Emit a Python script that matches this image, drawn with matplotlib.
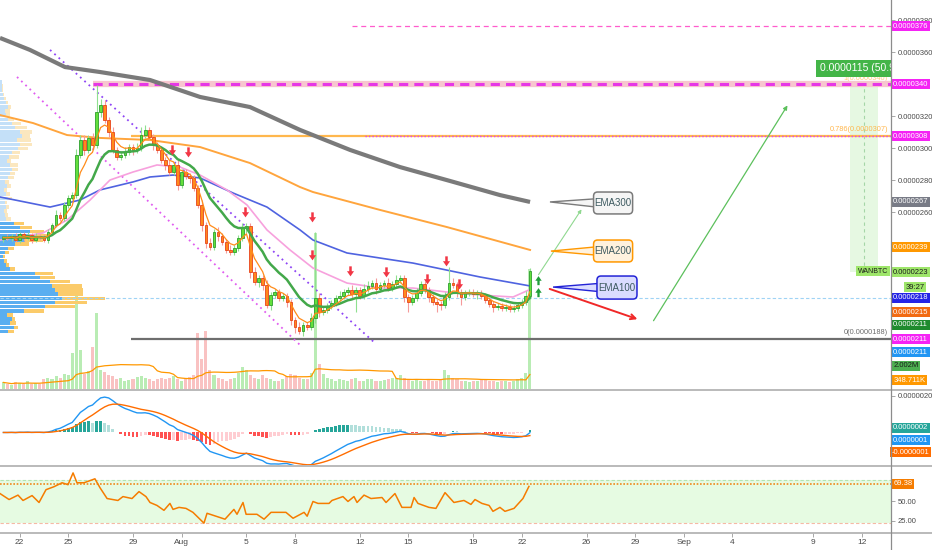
import numpy as np
import pandas as pd
import matplotlib
matplotlib.use("Agg")
import matplotlib.pyplot as plt
from matplotlib.patches import Polygon, Rectangle, FancyBboxPatch
from matplotlib.lines import Line2D

plt.rcParams['font.family'] = ['Liberation Sans', 'DejaVu Sans']

# WANBTC, 6h candles, prices in units of 1e-7 BTC, day 0 = Jul 22
closes = [
    244.0, 243.8, 245.0, 242.5, 246.3, 243.8, 245.6, 242.5, 245.0, 244.4,
    242.5, 247.5, 251.9, 258.1, 256.3, 264.4, 268.8, 270.6, 295.6, 305.0,
    298.8, 306.3, 301.9, 322.5, 326.9, 317.5, 310.0, 298.8, 294.4, 295.6,
    297.5, 300.6, 298.8, 300.0, 308.1, 311.3, 306.9, 301.9, 298.8, 292.5,
    289.4, 285.0, 289.4, 276.9, 285.0, 282.5, 281.3, 275.0, 264.4, 251.9,
    240.6, 238.1, 247.5, 245.0, 241.3, 236.3, 235.0, 237.5, 243.8, 250.0,
    251.3, 222.5, 216.3, 218.8, 214.4, 201.9, 208.1, 210.0, 206.3, 207.5,
    203.8, 192.5, 188.1, 185.6, 189.4, 188.1, 193.8, 206.3, 197.5, 198.8,
    201.3, 203.1, 206.3, 207.5, 210.0, 211.3, 208.8, 211.3, 207.5, 211.9,
    213.8, 215.6, 211.9, 214.4, 215.6, 212.5, 215.0, 217.5, 218.8, 206.9,
    203.8, 206.3, 209.4, 215.0, 211.3, 206.9, 203.8, 202.5, 201.9, 206.9,
    215.6, 214.4, 210.0, 206.9, 209.4, 210.0, 208.8, 209.4, 207.5, 205.0,
    202.5, 200.6, 201.3, 200.0, 200.6, 199.4, 200.0, 201.9, 203.8, 207.5,
    223.0]
upper_wick = [
    1, 2, 1, 2, 1, 1, 2, 1, 2, 1,
    2, 2, 1, 3, 2, 2, 2, 2, 4, 3,
    3, 2, 3, 17, 4, 3, 2, 3, 2, 2,
    3, 2, 2, 3, 5, 3, 2, 2, 2, 2,
    2, 3, 2, 3, 2, 2, 2, 2, 2, 3,
    2, 3, 2, 3, 2, 2, 3, 2, 2, 3,
    2, 2, 3, 2, 2, 3, 2, 2, 2, 2,
    2, 2, 2, 3, 2, 2, 3, 41, 3, 2,
    2, 2, 2, 3, 2, 2, 3, 2, 2, 3,
    3, 2, 3, 2, 2, 3, 2, 3, 2, 2,
    2, 2, 3, 2, 2, 2, 2, 2, 2, 3,
    10, 3, 2, 2, 2, 2, 2, 2, 2, 2,
    2, 2, 2, 2, 2, 2, 2, 2, 2, 3,
    2]
lower_wick = [
    2, 1, 2, 1, 2, 2, 1, 2, 1, 2,
    1, 2, 2, 1, 2, 2, 2, 1, 2, 2,
    3, 2, 2, 2, 3, 2, 3, 2, 2, 2,
    2, 2, 3, 2, 2, 2, 2, 3, 2, 2,
    3, 2, 2, 3, 2, 2, 3, 2, 2, 4,
    3, 2, 2, 3, 2, 2, 2, 2, 2, 2,
    3, 4, 2, 3, 3, 2, 3, 2, 2, 2,
    3, 3, 4, 2, 3, 2, 2, 3, 3, 2,
    2, 2, 2, 2, 2, 2, 3, 11, 2, 2,
    2, 2, 3, 2, 2, 2, 2, 2, 2, 3,
    6, 2, 2, 2, 2, 3, 2, 5, 3, 2,
    2, 2, 3, 5, 2, 2, 2, 3, 2, 2,
    2, 3, 2, 2, 2, 2, 2, 2, 2, 2,
    2]
volume_k = [
    110, 90, 70, 120, 100, 80, 130, 80, 100, 90,
    160, 190, 170, 210, 180, 250, 230, 600, 1600, 650,
    250, 300, 700, 1270, 310, 290, 240, 210, 160, 180,
    130, 150, 170, 200, 220, 180, 160, 140, 170, 190,
    160, 180, 210, 170, 140, 160, 200, 230, 930, 500,
    970, 310, 230, 180, 160, 140, 170, 190, 270, 360,
    310, 230, 180, 170, 240, 190, 160, 140, 130, 160,
    210, 250, 230, 180, 160, 170, 270, 2600, 420, 250,
    180, 160, 140, 170, 150, 140, 160, 180, 140, 130,
    160, 170, 140, 130, 150, 160, 180, 190, 230, 180,
    150, 140, 170, 140, 130, 160, 140, 130, 160, 310,
    230, 180, 160, 140, 130, 120, 140, 130, 150, 160,
    140, 130, 120, 140, 130, 110, 130, 160, 190, 270,
    2002]

# moving averages: (day, price)
ema300_day = [-1.21, 0.64, 2.80, 4.96, 8.05, 11.14, 14.22, 17.31, 20.40, 23.48, 26.57, 29.65, 31.51]
ema300_val = [368.8, 361.3, 350.6, 347.5, 342.5, 331.9, 325.6, 311.3, 298.8, 288.1, 279.4, 270.6, 266.3]
ema200_day = [-1.21, 0.83, 2.93, 4.96, 8.05, 11.14, 14.22, 17.31, 18.11, 22.25, 26.38, 31.51]
ema200_val = [320.6, 315.6, 308.1, 306.3, 305.0, 300.6, 290.6, 275.6, 272.5, 261.3, 250.6, 236.3]
ema100_day = [-1.21, 1.88, 3.73, 4.96, 7.00, 8.05, 9.47, 11.14, 13.17, 15.27, 17.31, 18.11, 20.21, 24.28, 28.42, 31.51]
ema100_val = [269.4, 263.1, 267.5, 273.8, 278.8, 281.9, 283.1, 281.3, 271.9, 263.1, 248.8, 242.5, 234.4, 228.1, 219.4, 213.8]
ema50_day = [-1.21, 1.44, 2.93, 4.35, 5.58, 7.00, 8.48, 9.90, 11.14, 12.80, 14.04, 15.27, 16.69, 18.11,
             20.21, 22.25, 24.28, 26.38, 28.42, 30.46, 31.44]
ema50_val = [242.5, 246.9, 255.0, 267.5, 280.0, 285.0, 289.4, 288.1, 283.1, 273.8, 264.4, 248.8, 236.3, 225.0,
             215.6, 212.5, 212.5, 210.0, 208.1, 206.9, 211.3]

# RSI
rsi_day = [-1.21, -0.65, -0.10, 0.21, 0.77, 1.20, 1.63, 2.12, 2.62, 2.99, 3.30, 3.54, 3.98, 4.65, 4.96, 5.40,
           6.07, 6.38, 6.94, 7.37, 7.80, 8.05, 8.48, 8.91, 9.28, 9.47, 9.84, 10.27, 10.70, 11.38, 11.57,
           12.68, 13.23, 13.42, 13.79, 13.98, 14.65, 15.09, 15.52, 16.44, 16.88, 17.56, 17.75, 18.11, 18.42,
           19.10, 19.28, 19.96, 20.27, 20.64, 20.83, 21.26, 21.69, 22.37, 22.62, 23.17, 23.60, 24.16, 24.35,
           24.59, 25.27, 25.70, 26.26, 26.81, 27.43, 27.86, 28.11, 28.54, 28.98, 29.22, 29.65, 29.96, 30.52,
           31.07, 31.44]
rsi_val = [60.2, 52.5, 58.2, 51.3, 57.6, 48.7, 65.2, 69.0, 74.1, 71.6, 86.8, 74.1, 74.1, 79.2, 67.8, 53.8,
           51.3, 56.3, 53.8, 62.7, 56.3, 48.7, 44.9, 38.6, 47.5, 39.8, 42.4, 41.1, 36.0, 22.1, 34.8,
           27.2, 39.8, 33.5, 48.7, 33.5, 33.5, 27.2, 36.0, 36.0, 28.4, 36.0, 31.0, 50.0, 47.5,
           47.5, 51.3, 56.3, 50.0, 56.3, 48.7, 58.2, 53.8, 55.1, 48.7, 60.2, 42.4, 42.4, 55.1,
           47.5, 42.4, 41.1, 61.4, 48.7, 51.3, 46.2, 52.5, 47.5, 44.9, 37.3, 42.4, 37.3, 41.1,
           53.8, 69.4]

# visible range volume profile, rows of 2.6 from 184 upward (buy / sell part)
profile_buy = [8, 14, 10, 12, 7, 24, 45, 55, 62, 58, 55, 52, 50, 40, 35, 10, 6, 4, 3, 5, 8, 15, 25, 35, 30,
               20, 14, 6, 5, 4, 6, 5, 8, 6, 4, 7, 5, 8, 10, 12, 10, 7, 9, 12, 18, 20, 17, 22, 20, 15, 12, 8, 6,
               5, 8, 6, 4, 3, 2, 2, 2]
profile_sell = [6, 4, 6, 3, 6, 20, 30, 32, 43, 25, 28, 30, 20, 15, 18, 5, 3, 3, 2, 4, 6, 14, 18, 15, 14,
                12, 10, 5, 3, 3, 3, 2, 4, 4, 3, 4, 4, 6, 5, 6, 8, 4, 10, 8, 10, 12, 14, 8, 12, 12, 9, 6, 4,
                5, 3, 2, 2, 1, 1, 1, 0]

signal_down_day = [9.41, 10.40, 13.91, 18.05, 18.05, 20.40, 22.62, 25.15, 26.32, 27.12]
signal_down_val = [298.8, 297.5, 260.0, 256.9, 233.1, 223.1, 222.5, 218.1, 229.4, 215.0]
signal_up_day = [32.0, 32.0]
signal_up_val = [217.5, 210.0]

tick_days = [0, 3, 7, 10, 14, 17, 21, 24, 28, 31, 35, 38, 41, 44, 49, 52]
tick_text = ['22', '25', '29', 'Aug', '5', '8', '12', '15', '19', '22', '26', '29', 'Sep', '4', '9', '12']

# ---------------------------------------------------------------
c = np.array(closes)
n = len(c)
t = -1.0 + 0.25 * np.arange(n)
o = np.r_[243.0, c[:-1]]
hi = np.maximum(o, c) + np.array(upper_wick)
lo = np.minimum(o, c) - np.array(lower_wick)
up = c >= o
vol = np.array(volume_k, dtype=float)

s = pd.Series(c)
ema_fast = s.ewm(span=5, adjust=False).mean()
ema_mid = s.ewm(span=13, adjust=False).mean()
macd = s.ewm(span=12, adjust=False).mean() - s.ewm(span=26, adjust=False).mean()
sig = macd.ewm(span=9, adjust=False).mean()
hist = (macd - sig).values
vol_ma = pd.Series(vol).rolling(20, min_periods=1).mean()

W, H = 932, 550
fig = plt.figure(figsize=(W / 100, H / 100), dpi=100)


def px_axes(x0, y0, x1, y1):
    return fig.add_axes([x0 / W, 1 - y1 / H, (x1 - x0) / W, (y1 - y0) / H])


ax = px_axes(0, 0, 891, 389)
axm = px_axes(0, 391, 891, 465)
axr = px_axes(0, 467, 891, 533)
xl = (-1.21, 53.79)

# volume lives on a twin of the price panel, drawn underneath it
vax = ax.twinx()
vax.set_ylim(0, 6500)
vax.set_xlim(*xl)
vax.axis('off')
vax.set_zorder(ax.get_zorder() - 1)
ax.patch.set_visible(False)

for a in (ax, axm, axr):
    a.set_xlim(*xl)
    for sp in a.spines.values():
        sp.set_visible(False)
    a.yaxis.tick_right()
    a.tick_params(axis='y', direction='out', length=3, width=0.6, color='#9a9a9a',
                  labelsize=5.5, labelcolor='#4a4a4a', pad=2)
    a.tick_params(axis='x', bottom=False, labelbottom=False)

# ---------------- main panel ----------------
ax.set_ylim(149.4, 392.5)
ax.set_yticks([260, 280, 300, 320, 360, 380])
ax.set_yticklabels(['0.0000%d' % v for v in [260, 280, 300, 320, 360, 380]])

vax.bar(t, vol, width=0.19, color=np.where(up, '#b9ecb4', '#f9c2c2'), linewidth=0)
vax.plot(t, vol_ma, color='#ff9800', lw=0.9)

# volume profile
rows = 184 + 1.3 + 2.6 * np.arange(len(profile_buy))
strong = np.arange(len(profile_buy)) <= 26
pb = np.array(profile_buy) / 16.2
ps = np.array(profile_sell) / 16.2
ax.barh(rows, pb, height=2.2, left=xl[0], color=np.where(strong, '#5aaef0', '#c4e0f8'), lw=0, zorder=1)
ax.barh(rows, ps, height=2.2, left=xl[0] + pb, color=np.where(strong, '#fbcb6a', '#fbe7bf'), lw=0, zorder=1)

# horizontal levels
ax.axhline(206.3, color='#9fd3f5', lw=0.8, ls=(0, (3, 2)), zorder=2)
ax.hlines(376, 20.5, xl[1], color='#ff5ccd', lw=0.9, ls=(0, (4, 3)), zorder=2)
ax.hlines(340, 4.5, xl[1], color='#f7c6cf', lw=4.5, zorder=2)
ax.hlines(340, 4.5, xl[1], color='#e637e6', lw=2.2, ls=(0, (3, 2)), zorder=2)
ax.hlines(307.5, 6.9, xl[1], color='#ffb74d', lw=1.6, zorder=2)
ax.hlines(307.5, 21.3, xl[1], color='#e040fb', lw=1.0, ls=(0, (1, 1.5)), zorder=2)
ax.hlines(180.6, 6.9, xl[1], color='#6e6e6e', lw=1.6, zorder=2)
ax.text(53.6, 309.5, '0.786(0.0000307)', color='#ffb74d', fontsize=5.3, ha='right', va='bottom', zorder=3)
ax.text(53.6, 341.5, '1(0.0000340)', color='#ffcc80', fontsize=5.3, ha='right', va='bottom', zorder=1)
ax.text(53.6, 182.3, '0(0.0000188)', color='#6e6e6e', fontsize=5.3, ha='right', va='bottom', zorder=3)

# channel
ax.plot([1.88, 21.94], [361.3, 178.1], color='#8e44f5', lw=1.3, ls=(0, (1, 2.2)), zorder=2)
ax.plot([-0.16, 17.31], [344.4, 176.9], color='#e05cf0', lw=1.3, ls=(0, (1, 2.2)), zorder=2)

# measure box
ax.add_patch(Rectangle((51.26, 222.5), 1.73, 118.8, fc='#e6f8e2', ec='none', zorder=1))
ax.vlines(52.12, 222.5, 341.3, color='#a5d6a7', lw=0.8, ls=(0, (3, 3)), zorder=1)
ax.text(49.41, 349.7, '0.0000115 (50.94%)', color='white', fontsize=7.5, va='center', ha='left',
        bbox=dict(boxstyle='square,pad=0.35', fc='#43b548', ec='none'), clip_on=True, zorder=9)
ax.text(53.62, 223, 'WANBTC', color='#1b1b1b', fontsize=5, va='center', ha='right',
        bbox=dict(boxstyle='square,pad=0.25', fc='#9ee66a', ec='none'), zorder=9)

# moving averages
ax.plot(ema300_day, ema300_val, color='#7a7a7a', lw=3, solid_capstyle='butt', zorder=3)
ax.plot(ema200_day, ema200_val, color='#ffa53d', lw=1.4, zorder=3)
ax.plot(ema100_day, ema100_val, color='#4f63e0', lw=1.2, zorder=3)
ax.plot(ema50_day, ema50_val, color='#f7a1dd', lw=1.2, zorder=3)

# candles
ax.vlines(t, lo, hi, color=np.where(up, '#8fe08f', '#f59a9a'), lw=0.8, zorder=4)
body = np.abs(c - o)
body = np.where(body < 0.6, 0.6, body)
ax.bar(t, body, bottom=np.minimum(o, c), width=0.17, color=np.where(up, '#63e03c', '#ff8a1c'),
       edgecolor=np.where(up, '#2e9e2e', '#e8431c'), linewidth=0.6, zorder=5)
ax.plot(t, ema_mid, color='#43a84a', lw=1.8, zorder=6)
ax.plot(t, ema_fast, color='#ff8c1a', lw=0.9, zorder=6)

# signals
down_arrow = [(-0.22, 0.9), (0.22, 0.9), (0.22, 0.05), (0.62, 0.05), (0, -0.85), (-0.62, 0.05), (-0.22, 0.05)]
up_arrow = [(x, -y) for x, y in down_arrow]
ax.scatter(signal_down_day, signal_down_val, marker=down_arrow, s=55, color='#f23645', lw=0, zorder=7)
ax.scatter(signal_up_day, signal_up_val, marker=up_arrow, s=45, color='#1f9e3a', lw=0, zorder=7)

# projections
ax.annotate('', xy=(34.78, 263.1), xytext=(31.94, 219.4),
            arrowprops=dict(arrowstyle='-|>', color='#8fd88f', lw=0.8, mutation_scale=5), zorder=6)
ax.annotate('', xy=(47.49, 328.1), xytext=(39.04, 190.6),
            arrowprops=dict(arrowstyle='-|>', color='#5cc05c', lw=0.9, mutation_scale=6), zorder=6)
ax.annotate('', xy=(38.30, 192.5), xytext=(32.56, 212.5),
            arrowprops=dict(arrowstyle='->', color='#f02828', lw=1.4, mutation_scale=9), zorder=6)


def callout(label, tip, x0, x1, y0, y1, fc, ec):
    ym = (y0 + y1) / 2
    ax.add_patch(Polygon([tip, (x0 + 0.4, ym + 2.8), (x0 + 0.4, ym - 2.8)], closed=True,
                         fc=fc, ec=ec, lw=1, zorder=8))
    ax.add_patch(FancyBboxPatch((x0, y0), x1 - x0, y1 - y0, boxstyle='round,pad=0,rounding_size=0.25',
                                mutation_aspect=10.1, fc=fc, ec=ec, lw=1.1, zorder=9))
    ax.text((x0 + x1) / 2, ym, label, color='#3d5a60', fontsize=7, ha='center', va='center', zorder=10)


callout('EMA300', (32.74, 266.3), 35.43, 37.84, 258.8, 272.5, '#f5f5f5', '#7a7a7a')
callout('EMA200', (32.80, 235.6), 35.43, 37.84, 228.8, 242.5, '#fff2de', '#ff9800')
callout('EMA100', (32.93, 213.1), 35.64, 38.11, 205.6, 220.0, '#dadcff', '#2323d6')

# ---------------- MACD ----------------
axm.set_ylim(-17.8, 22.7)
axm.set_yticks([20])
axm.set_yticklabels(['0.0000020'])
dh = np.r_[0, np.diff(hist)]
hcol = np.where(hist >= 0, np.where(dh >= 0, '#26a69a', '#b2dfdb'), np.where(dh <= 0, '#ff5252', '#ffcdd2'))
axm.bar(t, hist, width=0.17, color=hcol, lw=0)
axm.plot(t, macd, color='#2196f3', lw=1)
axm.plot(t, sig, color='#ff6d00', lw=1)

# ---------------- RSI ----------------
axr.set_ylim(9.4, 94.4)
axr.set_yticks([50, 25])
axr.set_yticklabels(['50.00', '25.00'])
axr.axhspan(22, 78, color='#e6fbe2', lw=0)
axr.axhline(78, color='#b5e3b0', lw=0.8, ls=(0, (3, 2)))
axr.axhline(22, color='#f5b9a5', lw=0.8, ls=(0, (3, 2)))
axr.axhline(72, color='#f08a1c', lw=1.2, ls=(0, (1, 1)))
axr.plot(rsi_day, rsi_val, color='#f57c00', lw=1.1)
axr.set_xticks(tick_days)
axr.set_xticklabels(tick_text)
axr.tick_params(axis='x', bottom=True, labelbottom=True, direction='out', length=3, width=0.6,
                color='#9a9a9a', labelsize=6, labelcolor='#4a4a4a', pad=1.5)


# ---------------- right scale labels ----------------
def rlabel(a, y, txt, fc, tc='white', dx=0.0025):
    a.text(1 + dx, y, txt, transform=a.get_yaxis_transform(), fontsize=5.5, color=tc, va='center', ha='left',
           bbox=dict(boxstyle='square,pad=0.2', fc=fc, ec='none'), clip_on=False, zorder=20)


rlabel(ax, 376, '0.0000376', '#f523f5')
rlabel(ax, 340, '0.0000340', '#f523f5')
rlabel(ax, 307.5, '0.0000308', '#f523f5')
rlabel(ax, 266.3, '0.0000267', '#787b86')
rlabel(ax, 238.1, '0.0000239', '#ff9800')
rlabel(ax, 222.5, '0.0000223', '#9ee66a', '#1b1b1b')
rlabel(ax, 213.1, '39:27', '#9ee66a', '#1b1b1b', dx=0.016)
rlabel(ax, 206.3, '0.0000218', '#2424e6')
rlabel(ax, 197.5, '0.0000215', '#f26a12')
rlabel(ax, 189.4, '0.0000211', '#1f8b2e')
rlabel(ax, 180.6, '0.0000211', '#f523f5')
rlabel(ax, 172.5, '0.0000211', '#2196f3')
rlabel(ax, 163.8, '2.002M', '#4caf50', '#1b1b1b')
rlabel(ax, 155.0, '348.711K', '#ff9800')
rlabel(axm, 2.7, '0.0000002', '#26a69a')
rlabel(axm, -4.3, '0.0000001', '#2196f3')
rlabel(axm, -10.8, '-0.0000001', '#ff6d00', dx=0.0005)
rlabel(axr, 72.8, '69.38', '#f57c00')

# panel separators and price scale border
for yy in (390, 466, 533):
    fig.add_artist(Line2D([0, 1], [1 - yy / H, 1 - yy / H], transform=fig.transFigure, color='#b4b4b4', lw=1.3))
fig.add_artist(Line2D([891 / W, 891 / W], [0, 1], transform=fig.transFigure, color='#8c8c8c', lw=0.9))

fig.savefig('out.png', dpi=100, facecolor='white')
